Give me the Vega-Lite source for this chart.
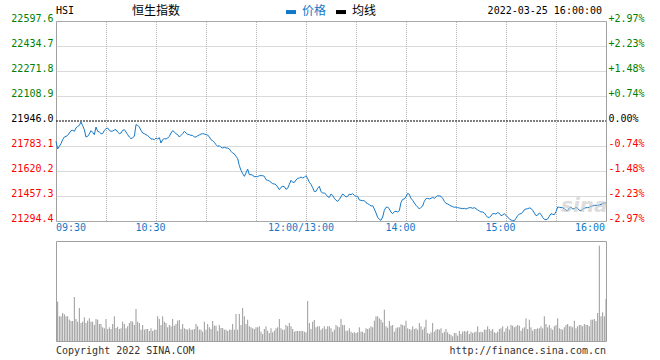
{
  "$schema": "https://vega.github.io/schema/vega-lite/v6.json",
  "background": "white",
  "padding": {"left": 10, "top": 4, "right": 10, "bottom": 4},
  "spacing": 20,
  "bounds": "flush",
  "config": {
    "view": {"stroke": "#a0a0a0", "strokeWidth": 1},
    "axis": {"domain": false, "ticks": false, "title": null, "labelFont": "DejaVu Sans Mono", "labelFontSize": 10, "gridColor": "#b4b4b4", "gridDash": [1, 1], "gridWidth": 1}
  },
  "datasets": {
    "px": [
      {"t":0,"p":21813.5},{"t":1,"p":21763.6},{"t":2,"p":21780.9},{"t":3,"p":21798.3},{"t":4,"p":21824.4},{"t":5,"p":21841.7},{"t":6,"p":21846.1},{"t":7,"p":21852.6},{"t":8,"p":21867.8},{"t":9,"p":21883.0},
      {"t":10,"p":21885.2},{"t":11,"p":21878.7},{"t":12,"p":21900.4},{"t":13,"p":21911.2},{"t":14,"p":21917.8},{"t":15,"p":21939.5},{"t":16,"p":21915.6},{"t":17,"p":21889.5},{"t":18,"p":21841.7},{"t":19,"p":21846.1},
      {"t":20,"p":21861.3},{"t":21,"p":21883.0},{"t":22,"p":21872.2},{"t":23,"p":21856.9},{"t":24,"p":21906.9},{"t":25,"p":21878.7},{"t":26,"p":21874.3},{"t":27,"p":21863.5},{"t":28,"p":21863.5},{"t":29,"p":21885.2},
      {"t":30,"p":21896.0},{"t":31,"p":21900.4},{"t":32,"p":21885.2},{"t":33,"p":21878.7},{"t":34,"p":21880.8},{"t":35,"p":21887.4},{"t":36,"p":21889.5},{"t":37,"p":21874.3},{"t":38,"p":21863.5},{"t":39,"p":21867.8},
      {"t":40,"p":21885.2},{"t":41,"p":21889.5},{"t":42,"p":21874.3},{"t":43,"p":21856.9},{"t":44,"p":21841.7},{"t":45,"p":21830.9},{"t":46,"p":21837.4},{"t":47,"p":21846.1},{"t":48,"p":21922.1},{"t":49,"p":21917.8},
      {"t":50,"p":21906.9},{"t":51,"p":21885.2},{"t":52,"p":21867.8},{"t":53,"p":21863.5},{"t":54,"p":21856.9},{"t":55,"p":21850.4},{"t":56,"p":21841.7},{"t":57,"p":21828.7},{"t":58,"p":21828.7},{"t":59,"p":21824.4},
      {"t":60,"p":21835.2},{"t":61,"p":21828.7},{"t":62,"p":21837.4},{"t":63,"p":21802.6},{"t":64,"p":21824.4},{"t":65,"p":21830.9},{"t":66,"p":21828.7},{"t":67,"p":21835.2},{"t":68,"p":21846.1},{"t":69,"p":21867.8},
      {"t":70,"p":21883.0},{"t":71,"p":21874.3},{"t":72,"p":21863.5},{"t":73,"p":21856.9},{"t":74,"p":21841.7},{"t":75,"p":21852.6},{"t":76,"p":21863.5},{"t":77,"p":21878.7},{"t":78,"p":21867.8},{"t":79,"p":21859.1},
      {"t":80,"p":21856.9},{"t":81,"p":21852.6},{"t":82,"p":21852.6},{"t":83,"p":21841.7},{"t":84,"p":21841.7},{"t":85,"p":21850.4},{"t":86,"p":21854.8},{"t":87,"p":21861.3},{"t":88,"p":21863.5},{"t":89,"p":21861.3},
      {"t":90,"p":21856.9},{"t":91,"p":21854.8},{"t":92,"p":21841.7},{"t":93,"p":21824.4},{"t":94,"p":21817.9},{"t":95,"p":21807.0},{"t":96,"p":21791.8},{"t":97,"p":21780.9},{"t":98,"p":21785.3},{"t":99,"p":21774.4},
      {"t":100,"p":21770.1},{"t":101,"p":21774.4},{"t":102,"p":21770.1},{"t":103,"p":21770.1},{"t":104,"p":21763.6},{"t":105,"p":21748.3},{"t":106,"p":21737.5},{"t":107,"p":21731.0},{"t":108,"p":21715.8},{"t":109,"p":21700.6},
      {"t":110,"p":21655.0},{"t":111,"p":21624.5},{"t":112,"p":21602.8},{"t":113,"p":21585.4},{"t":114,"p":21607.2},{"t":115,"p":21633.2},{"t":116,"p":21596.3},{"t":117,"p":21596.3},{"t":118,"p":21594.1},{"t":119,"p":21581.1},
      {"t":120,"p":21585.4},{"t":121,"p":21583.3},{"t":122,"p":21589.8},{"t":123,"p":21589.8},{"t":124,"p":21589.8},{"t":125,"p":21585.4},{"t":126,"p":21563.7},{"t":127,"p":21559.4},{"t":128,"p":21555.0},{"t":129,"p":21546.4},
      {"t":130,"p":21537.7},{"t":131,"p":21535.5},{"t":132,"p":21531.2},{"t":133,"p":21516.0},{"t":134,"p":21498.6},{"t":135,"p":21513.8},{"t":136,"p":21520.3},{"t":137,"p":21518.1},{"t":138,"p":21500.7},{"t":139,"p":21507.3},
      {"t":140,"p":21533.3},{"t":141,"p":21559.4},{"t":142,"p":21546.4},{"t":143,"p":21546.4},{"t":144,"p":21561.6},{"t":145,"p":21572.4},{"t":146,"p":21574.6},{"t":147,"p":21581.1},{"t":148,"p":21574.6},{"t":149,"p":21578.9},
      {"t":150,"p":21589.8},{"t":151,"p":21570.2},{"t":152,"p":21546.4},{"t":153,"p":21533.3},{"t":154,"p":21511.6},{"t":155,"p":21485.5},{"t":156,"p":21487.7},{"t":157,"p":21507.3},{"t":158,"p":21520.3},{"t":159,"p":21485.5},
      {"t":160,"p":21476.8},{"t":161,"p":21476.8},{"t":162,"p":21468.2},{"t":163,"p":21453.0},{"t":164,"p":21448.6},{"t":165,"p":21470.3},{"t":166,"p":21461.6},{"t":167,"p":21442.1},{"t":168,"p":21429.1},{"t":169,"p":21422.5},
      {"t":170,"p":21435.6},{"t":171,"p":21453.0},{"t":172,"p":21470.3},{"t":173,"p":21461.6},{"t":174,"p":21450.8},{"t":175,"p":21455.1},{"t":176,"p":21470.3},{"t":177,"p":21466.0},{"t":178,"p":21472.5},{"t":179,"p":21461.6},
      {"t":180,"p":21455.1},{"t":181,"p":21455.1},{"t":182,"p":21431.2},{"t":183,"p":21429.1},{"t":184,"p":21426.9},{"t":185,"p":21426.9},{"t":186,"p":21413.9},{"t":187,"p":21407.3},{"t":188,"p":21400.8},{"t":189,"p":21392.1},
      {"t":190,"p":21394.3},{"t":191,"p":21372.6},{"t":192,"p":21346.6},{"t":193,"p":21318.3},{"t":194,"p":21305.3},{"t":195,"p":21298.8},{"t":196,"p":21320.5},{"t":197,"p":21363.9},{"t":198,"p":21383.5},{"t":199,"p":21385.6},
      {"t":200,"p":21372.6},{"t":201,"p":21353.1},{"t":202,"p":21342.2},{"t":203,"p":21355.3},{"t":204,"p":21357.4},{"t":205,"p":21353.1},{"t":206,"p":21361.8},{"t":207,"p":21416.0},{"t":208,"p":21435.6},{"t":209,"p":21437.8},
      {"t":210,"p":21453.0},{"t":211,"p":21474.6},{"t":212,"p":21468.2},{"t":213,"p":21442.1},{"t":214,"p":21429.1},{"t":215,"p":21411.7},{"t":216,"p":21396.5},{"t":217,"p":21385.6},{"t":218,"p":21372.6},{"t":219,"p":21383.5},
      {"t":220,"p":21392.0},{"t":221,"p":21422.5},{"t":222,"p":21439.9},{"t":223,"p":21442.1},{"t":224,"p":21437.8},{"t":225,"p":21442.1},{"t":226,"p":21448.6},{"t":227,"p":21442.1},{"t":228,"p":21450.8},{"t":229,"p":21459.5},
      {"t":230,"p":21457.3},{"t":231,"p":21455.1},{"t":232,"p":21442.1},{"t":233,"p":21422.5},{"t":234,"p":21409.5},{"t":235,"p":21405.2},{"t":236,"p":21398.7},{"t":237,"p":21392.1},{"t":238,"p":21387.8},{"t":239,"p":21383.5},
      {"t":240,"p":21385.6},{"t":241,"p":21381.3},{"t":242,"p":21379.1},{"t":243,"p":21377.0},{"t":244,"p":21374.8},{"t":245,"p":21377.0},{"t":246,"p":21372.6},{"t":247,"p":21377.0},{"t":248,"p":21381.3},{"t":249,"p":21381.3},
      {"t":250,"p":21377.0},{"t":251,"p":21381.3},{"t":252,"p":21374.8},{"t":253,"p":21366.1},{"t":254,"p":21359.6},{"t":255,"p":21353.1},{"t":256,"p":21353.1},{"t":257,"p":21346.6},{"t":258,"p":21331.4},{"t":259,"p":21318.3},
      {"t":260,"p":21318.3},{"t":261,"p":21327.0},{"t":262,"p":21342.2},{"t":263,"p":21342.2},{"t":264,"p":21340.1},{"t":265,"p":21348.7},{"t":266,"p":21344.4},{"t":267,"p":21329.2},{"t":268,"p":21333.5},{"t":269,"p":21342.2},
      {"t":270,"p":21331.4},{"t":271,"p":21320.5},{"t":272,"p":21307.5},{"t":273,"p":21300.9},{"t":274,"p":21296.6},{"t":275,"p":21296.6},{"t":276,"p":21311.8},{"t":277,"p":21329.2},{"t":278,"p":21340.1},{"t":279,"p":21342.2},
      {"t":280,"p":21350.9},{"t":281,"p":21368.3},{"t":282,"p":21372.6},{"t":283,"p":21374.8},{"t":284,"p":21379.1},{"t":285,"p":21377.0},{"t":286,"p":21363.9},{"t":287,"p":21346.6},{"t":288,"p":21329.2},{"t":289,"p":21333.5},
      {"t":290,"p":21346.6},{"t":291,"p":21337.9},{"t":292,"p":21318.3},{"t":293,"p":21305.3},{"t":294,"p":21303.1},{"t":295,"p":21307.5},{"t":296,"p":21324.9},{"t":297,"p":21342.2},{"t":298,"p":21337.9},{"t":299,"p":21335.7},
      {"t":300,"p":21355.3},{"t":301,"p":21385.6},{"t":302,"p":21383.5},{"t":303,"p":21381.3},{"t":304,"p":21381.3},{"t":305,"p":21374.8},{"t":306,"p":21363.9},{"t":307,"p":21361.8},{"t":308,"p":21379.1},{"t":309,"p":21385.6},
      {"t":310,"p":21372.6},{"t":311,"p":21374.8},{"t":312,"p":21383.5},{"t":313,"p":21377.0},{"t":314,"p":21363.9},{"t":315,"p":21361.8},{"t":316,"p":21370.5},{"t":317,"p":21377.0},{"t":318,"p":21381.3},{"t":319,"p":21381.3},
      {"t":320,"p":21383.5},{"t":321,"p":21390.0},{"t":322,"p":21392.1},{"t":323,"p":21396.5},{"t":324,"p":21396.5},{"t":325,"p":21396.5},{"t":326,"p":21398.7},{"t":327,"p":21403.0},{"t":328,"p":21407.3},{"t":329,"p":21411.7},
      {"t":330,"p":21411.7}
    ],
    "vol": [
      {"t":1,"v":39.3},{"t":2,"v":24.7},{"t":3,"v":24.7},{"t":4,"v":28},{"t":5,"v":26.7},{"t":6,"v":24.7},{"t":7,"v":24.7},{"t":8,"v":21.3},{"t":9,"v":20},{"t":10,"v":20},
      {"t":11,"v":44},{"t":12,"v":22},{"t":13,"v":19.3},{"t":14,"v":33},{"t":15,"v":18},{"t":16,"v":19.3},{"t":17,"v":23.7},{"t":18,"v":18},{"t":19,"v":20.3},{"t":20,"v":22.7},
      {"t":21,"v":19.3},{"t":22,"v":19.3},{"t":23,"v":16},{"t":24,"v":22},{"t":25,"v":21.3},{"t":26,"v":17},{"t":27,"v":17},{"t":28,"v":13.7},{"t":29,"v":12.7},{"t":30,"v":22},
      {"t":31,"v":12},{"t":32,"v":13.7},{"t":33,"v":12},{"t":34,"v":17},{"t":35,"v":24.7},{"t":36,"v":13},{"t":37,"v":14.3},{"t":38,"v":12},{"t":39,"v":12.7},{"t":40,"v":19.3},
      {"t":41,"v":17},{"t":42,"v":12.7},{"t":43,"v":14.7},{"t":44,"v":18},{"t":45,"v":20},{"t":46,"v":19.3},{"t":47,"v":16},{"t":48,"v":32},{"t":49,"v":19.3},{"t":50,"v":18},
      {"t":51,"v":11.3},{"t":52,"v":16},{"t":53,"v":11.3},{"t":54,"v":12},{"t":55,"v":12},{"t":56,"v":10},{"t":57,"v":12.7},{"t":58,"v":10},{"t":59,"v":11.3},{"t":60,"v":11.3},
      {"t":61,"v":24.7},{"t":62,"v":22},{"t":63,"v":16},{"t":64,"v":24.7},{"t":65,"v":19.3},{"t":66,"v":18},{"t":67,"v":13.7},{"t":68,"v":16},{"t":69,"v":14.7},{"t":70,"v":22},
      {"t":71,"v":15.3},{"t":72,"v":17},{"t":73,"v":20.3},{"t":74,"v":21},{"t":75,"v":12},{"t":76,"v":17},{"t":77,"v":12.7},{"t":78,"v":12},{"t":79,"v":11.3},{"t":80,"v":12.7},
      {"t":81,"v":11.3},{"t":82,"v":11.3},{"t":83,"v":12},{"t":84,"v":17},{"t":85,"v":14.7},{"t":86,"v":11.3},{"t":87,"v":11.3},{"t":88,"v":9.3},{"t":89,"v":19.3},{"t":90,"v":11.3},
      {"t":91,"v":17},{"t":92,"v":13.7},{"t":93,"v":12},{"t":94,"v":20},{"t":95,"v":15.3},{"t":96,"v":15.3},{"t":97,"v":10},{"t":98,"v":16},{"t":99,"v":13},{"t":100,"v":13},
      {"t":101,"v":11.3},{"t":102,"v":11.3},{"t":103,"v":10},{"t":104,"v":11.3},{"t":105,"v":11.3},{"t":106,"v":17},{"t":107,"v":11.3},{"t":108,"v":27},{"t":109,"v":11.3},{"t":110,"v":27},
      {"t":111,"v":16},{"t":112,"v":33},{"t":113,"v":24.7},{"t":114,"v":17},{"t":115,"v":21.3},{"t":116,"v":14.7},{"t":117,"v":13.7},{"t":118,"v":12.7},{"t":119,"v":12},{"t":120,"v":13.7},
      {"t":121,"v":13.7},{"t":122,"v":14.7},{"t":123,"v":9.3},{"t":124,"v":7},{"t":125,"v":12},{"t":126,"v":14.7},{"t":127,"v":10.3},{"t":128,"v":8},{"t":129,"v":12.7},{"t":130,"v":8.7},
      {"t":131,"v":10.3},{"t":132,"v":12.7},{"t":133,"v":13.7},{"t":134,"v":22},{"t":135,"v":12.7},{"t":136,"v":11.3},{"t":137,"v":11.3},{"t":138,"v":16},{"t":139,"v":14.7},{"t":140,"v":18},
      {"t":141,"v":14.7},{"t":142,"v":12},{"t":143,"v":9.3},{"t":144,"v":10},{"t":145,"v":10},{"t":146,"v":10},{"t":147,"v":10},{"t":148,"v":10},{"t":149,"v":9.3},{"t":150,"v":8.7},
      {"t":151,"v":40},{"t":152,"v":18},{"t":153,"v":12},{"t":154,"v":19.3},{"t":155,"v":21},{"t":156,"v":13.7},{"t":157,"v":14.7},{"t":158,"v":14.7},{"t":159,"v":11.3},{"t":160,"v":12.7},
      {"t":161,"v":14.7},{"t":162,"v":12},{"t":163,"v":14.7},{"t":164,"v":14.7},{"t":165,"v":12.7},{"t":166,"v":9.3},{"t":167,"v":11.3},{"t":168,"v":16},{"t":169,"v":14.7},{"t":170,"v":13.7},
      {"t":171,"v":22},{"t":172,"v":16},{"t":173,"v":16},{"t":174,"v":10.3},{"t":175,"v":10.3},{"t":176,"v":12.7},{"t":177,"v":9.3},{"t":178,"v":8},{"t":179,"v":8.7},{"t":180,"v":8},
      {"t":181,"v":8.7},{"t":182,"v":13.7},{"t":183,"v":9.3},{"t":184,"v":9.3},{"t":185,"v":8},{"t":186,"v":12.7},{"t":187,"v":12},{"t":188,"v":12.7},{"t":189,"v":14.7},{"t":190,"v":13.7},
      {"t":191,"v":20.3},{"t":192,"v":24.7},{"t":193,"v":24.7},{"t":194,"v":22.7},{"t":195,"v":21.3},{"t":196,"v":18.7},{"t":197,"v":31.3},{"t":198,"v":14.7},{"t":199,"v":13.3},{"t":200,"v":20},
      {"t":201,"v":15.3},{"t":202,"v":16},{"t":203,"v":9.3},{"t":204,"v":12.7},{"t":205,"v":13.7},{"t":206,"v":13.7},{"t":207,"v":16.7},{"t":208,"v":16},{"t":209,"v":15.3},{"t":210,"v":20.3},
      {"t":211,"v":12.7},{"t":212,"v":12},{"t":213,"v":11.3},{"t":214,"v":14.7},{"t":215,"v":12},{"t":216,"v":12.7},{"t":217,"v":11.3},{"t":218,"v":18},{"t":219,"v":14.7},{"t":220,"v":11.3},
      {"t":221,"v":13.7},{"t":222,"v":21.3},{"t":223,"v":8},{"t":224,"v":7},{"t":225,"v":8.7},{"t":226,"v":18},{"t":227,"v":9.3},{"t":228,"v":11.3},{"t":229,"v":12},{"t":230,"v":11.3},
      {"t":231,"v":12.7},{"t":232,"v":8},{"t":233,"v":9.3},{"t":234,"v":12},{"t":235,"v":8.7},{"t":236,"v":7},{"t":237,"v":6},{"t":238,"v":4.7},{"t":239,"v":8},{"t":240,"v":8},
      {"t":241,"v":5.3},{"t":242,"v":10},{"t":243,"v":7},{"t":244,"v":9.3},{"t":245,"v":10},{"t":246,"v":9.3},{"t":247,"v":10.3},{"t":248,"v":7},{"t":249,"v":9.3},{"t":250,"v":8},
      {"t":251,"v":8.7},{"t":252,"v":9.3},{"t":253,"v":14.7},{"t":254,"v":8.7},{"t":255,"v":9.3},{"t":256,"v":8.7},{"t":257,"v":11.3},{"t":258,"v":11.3},{"t":259,"v":14.7},{"t":260,"v":12},
      {"t":261,"v":10.3},{"t":262,"v":12},{"t":263,"v":8.7},{"t":264,"v":8},{"t":265,"v":9.3},{"t":266,"v":12},{"t":267,"v":12.7},{"t":268,"v":14.7},{"t":269,"v":9.3},{"t":270,"v":12.7},
      {"t":271,"v":14.7},{"t":272,"v":11.3},{"t":273,"v":16},{"t":274,"v":15.3},{"t":275,"v":13.7},{"t":276,"v":14.7},{"t":277,"v":16},{"t":278,"v":15.3},{"t":279,"v":10.3},{"t":280,"v":12.7},
      {"t":281,"v":13.7},{"t":282,"v":22.7},{"t":283,"v":12},{"t":284,"v":21.3},{"t":285,"v":13.7},{"t":286,"v":10.3},{"t":287,"v":12},{"t":288,"v":12},{"t":289,"v":12.7},{"t":290,"v":12.7},
      {"t":291,"v":14.7},{"t":292,"v":12.7},{"t":293,"v":24.7},{"t":294,"v":17},{"t":295,"v":13.7},{"t":296,"v":16},{"t":297,"v":12.7},{"t":298,"v":11.3},{"t":299,"v":14.7},{"t":300,"v":16},
      {"t":301,"v":22.7},{"t":302,"v":12.7},{"t":303,"v":12},{"t":304,"v":11.3},{"t":305,"v":13.7},{"t":306,"v":16},{"t":307,"v":17},{"t":308,"v":14.7},{"t":309,"v":14.7},{"t":310,"v":13.7},
      {"t":311,"v":20.3},{"t":312,"v":12.7},{"t":313,"v":14.7},{"t":314,"v":16},{"t":315,"v":16},{"t":316,"v":14.7},{"t":317,"v":17},{"t":318,"v":16},{"t":319,"v":16},{"t":320,"v":14.7},
      {"t":321,"v":21.3},{"t":322,"v":21.3},{"t":323,"v":22},{"t":324,"v":20},{"t":325,"v":28},{"t":326,"v":95.3},{"t":327,"v":24.7},{"t":328,"v":28.7},{"t":329,"v":24.7},{"t":330,"v":42}
    ]
  },
  "vconcat": [
    {
      "width": 550,
      "height": 200,
      "data": {"name": "px"},
      "layer": [
        {
          "transform": [{"filter": "datum.t % 30 == 0 && datum.t > 0 && datum.t < 330"}],
          "mark": {"type": "rule", "color": "#b4b4b4", "strokeDash": [1, 1], "strokeWidth": 1, "xOffset": 0.5},
          "encoding": {
            "x": {"field": "t", "type": "quantitative", "axis": null},
            "y": {"datum": 21294.4, "type": "quantitative", "axis": null},
            "y2": {"datum": 22597.6}
          }
        },
        {
          "mark": {"type": "line", "color": "#1478c8", "strokeWidth": 1},
          "encoding": {
            "x": {
              "field": "t", "type": "quantitative",
              "scale": {"domain": [0, 330], "nice": false, "zero": false},
              "axis": {"values": [0, 30, 60, 90, 120, 150, 180, 210, 240, 270, 300, 330], "grid": true, "labels": false}
            },
            "y": {
              "field": "p", "type": "quantitative",
              "scale": {"domain": [21294.4, 22597.6], "nice": false, "zero": false},
              "axis": {
                "orient": "left",
                "values": [21294.4, 21457.3, 21620.2, 21783.1, 21946, 22108.9, 22271.8, 22434.7, 22597.6],
                "format": ".1f",
                "grid": true,
                "labelFlush": false,
                "labelPadding": 3,
                "labelBaseline": "middle",
                "labelOffset": -3,
                "labelColor": {"condition": [{"test": "datum.value > 21946", "value": "#008000"}, {"test": "datum.value < 21946", "value": "#ff0000"}], "value": "#000000"},
                "gridOpacity": {"condition": {"test": "datum.value == 21946", "value": 0}, "value": 1}
              }
            }
          }
        },
        {
          "mark": {"type": "line", "color": "#1478c8", "strokeWidth": 1, "opacity": 0},
          "encoding": {
            "x": {"field": "t", "type": "quantitative", "axis": null},
            "y": {
              "field": "p", "type": "quantitative",
              "axis": {
                "orient": "right",
                "values": [21294.4, 21457.3, 21620.2, 21783.1, 21946, 22108.9, 22271.8, 22434.7, 22597.6],
                "grid": false,
                "labelFlush": false,
                "labelPadding": 2,
                "labelBaseline": "middle",
                "labelOffset": -3,
                "labelExpr": "datum.value == 21946 ? '0.00%' : (datum.value > 21946 ? '+' : '-') + format(abs(datum.value - 21946) / 21946 * 100, '.2f') + '%'",
                "labelColor": {"condition": [{"test": "datum.value > 21946", "value": "#008000"}, {"test": "datum.value < 21946", "value": "#ff0000"}], "value": "#000000"}
              }
            }
          }
        },
        {
          "data": {"values": [{}]},
          "mark": {"type": "text", "text": "sina", "font": "DejaVu Sans", "fontSize": 20, "fontWeight": "bold", "fontStyle": "italic", "color": "#c8c8c8", "opacity": 0.6, "align": "center", "baseline": "middle"},
          "encoding": {
            "x": {"datum": 317, "type": "quantitative", "axis": null},
            "y": {"datum": 21392, "type": "quantitative", "axis": null}
          }
        },
        {
          "data": {"values": [{}]},
          "mark": {"type": "rule", "color": "#000000", "strokeDash": [2, 1], "strokeWidth": 1},
          "encoding": {
            "x": {"datum": 0, "type": "quantitative", "axis": null},
            "x2": {"datum": 330},
            "y": {"datum": 21946, "type": "quantitative", "axis": null}
          }
        },
        {
          "data": {"values": [{}]},
          "mark": {"type": "text", "text": "09:30", "font": "DejaVu Sans Mono", "fontSize": 10, "color": "#1478c8", "align": "left", "baseline": "middle"},
          "encoding": {
            "x": {"datum": 0, "type": "quantitative", "axis": null},
            "y": {"datum": 21248.8, "type": "quantitative", "axis": null}
          }
        },
        {
          "data": {"values": [{}]},
          "mark": {"type": "text", "text": "10:30", "font": "DejaVu Sans Mono", "fontSize": 10, "color": "#1478c8", "align": "center", "baseline": "middle"},
          "encoding": {
            "x": {"datum": 56.7, "type": "quantitative", "axis": null},
            "y": {"datum": 21248.8, "type": "quantitative", "axis": null}
          }
        },
        {
          "data": {"values": [{}]},
          "mark": {"type": "text", "text": "12:00/13:00", "font": "DejaVu Sans Mono", "fontSize": 10, "color": "#1478c8", "align": "center", "baseline": "middle"},
          "encoding": {
            "x": {"datum": 147, "type": "quantitative", "axis": null},
            "y": {"datum": 21248.8, "type": "quantitative", "axis": null}
          }
        },
        {
          "data": {"values": [{}]},
          "mark": {"type": "text", "text": "14:00", "font": "DejaVu Sans Mono", "fontSize": 10, "color": "#1478c8", "align": "center", "baseline": "middle"},
          "encoding": {
            "x": {"datum": 206.7, "type": "quantitative", "axis": null},
            "y": {"datum": 21248.8, "type": "quantitative", "axis": null}
          }
        },
        {
          "data": {"values": [{}]},
          "mark": {"type": "text", "text": "15:00", "font": "DejaVu Sans Mono", "fontSize": 10, "color": "#1478c8", "align": "center", "baseline": "middle"},
          "encoding": {
            "x": {"datum": 266.7, "type": "quantitative", "axis": null},
            "y": {"datum": 21248.8, "type": "quantitative", "axis": null}
          }
        },
        {
          "data": {"values": [{}]},
          "mark": {"type": "text", "text": "16:00", "font": "DejaVu Sans Mono", "fontSize": 10, "color": "#1478c8", "align": "right", "baseline": "middle"},
          "encoding": {
            "x": {"datum": 329.4, "type": "quantitative", "axis": null},
            "y": {"datum": 21248.8, "type": "quantitative", "axis": null}
          }
        },
        {
          "data": {"values": [{}]},
          "mark": {"type": "text", "text": "HSI", "font": "DejaVu Sans Mono", "fontSize": 10, "color": "#000000", "align": "left", "baseline": "middle"},
          "encoding": {
            "x": {"datum": 0, "type": "quantitative", "axis": null},
            "y": {"datum": 22662.8, "type": "quantitative", "axis": null}
          }
        },
        {
          "data": {"values": [{}]},
          "mark": {"type": "text", "text": "恒生指数", "font": "Noto Sans CJK SC", "fontSize": 12, "color": "#000000", "align": "left", "baseline": "middle"},
          "encoding": {
            "x": {"datum": 45.6, "type": "quantitative", "axis": null},
            "y": {"datum": 22662.8, "type": "quantitative", "axis": null}
          }
        },
        {
          "data": {"values": [{}]},
          "mark": {"type": "rule", "color": "#1478c8", "strokeWidth": 4},
          "encoding": {
            "x": {"datum": 138, "type": "quantitative", "axis": null},
            "x2": {"datum": 144},
            "y": {"datum": 22656, "type": "quantitative", "axis": null}
          }
        },
        {
          "data": {"values": [{}]},
          "mark": {"type": "text", "text": "价格", "font": "Noto Sans CJK SC", "fontSize": 12, "color": "#1478c8", "align": "left", "baseline": "middle"},
          "encoding": {
            "x": {"datum": 147.6, "type": "quantitative", "axis": null},
            "y": {"datum": 22662.8, "type": "quantitative", "axis": null}
          }
        },
        {
          "data": {"values": [{}]},
          "mark": {"type": "rule", "color": "#000000", "strokeWidth": 4},
          "encoding": {
            "x": {"datum": 168, "type": "quantitative", "axis": null},
            "x2": {"datum": 174},
            "y": {"datum": 22656, "type": "quantitative", "axis": null}
          }
        },
        {
          "data": {"values": [{}]},
          "mark": {"type": "text", "text": "均线", "font": "Noto Sans CJK SC", "fontSize": 12, "color": "#000000", "align": "left", "baseline": "middle"},
          "encoding": {
            "x": {"datum": 177.6, "type": "quantitative", "axis": null},
            "y": {"datum": 22662.8, "type": "quantitative", "axis": null}
          }
        },
        {
          "data": {"values": [{}]},
          "mark": {"type": "text", "text": "2022-03-25 16:00:00", "font": "DejaVu Sans Mono", "fontSize": 10, "color": "#000000", "align": "right", "baseline": "middle"},
          "encoding": {
            "x": {"datum": 327.6, "type": "quantitative", "axis": null},
            "y": {"datum": 22662.8, "type": "quantitative", "axis": null}
          }
        }
      ]
    },
    {
      "width": 550,
      "height": 100,
      "layer": [
        {
          "data": {"name": "vol"},
          "mark": {"type": "rule", "color": "#999999", "strokeWidth": 1},
          "encoding": {
            "x": {
              "field": "t", "type": "quantitative",
              "scale": {"domain": [0, 330], "nice": false, "zero": false},
              "axis": {"values": [0, 30, 60, 90, 120, 150, 180, 210, 240, 270, 300, 330], "grid": true, "labels": false}
            },
            "y": {
              "field": "v", "type": "quantitative",
              "scale": {"domain": [0, 100], "nice": false},
              "axis": {"values": [0, 25, 50, 75, 100], "grid": true, "labels": false}
            },
            "y2": {"datum": 0}
          }
        },
        {
          "data": {"values": [{}]},
          "mark": {"type": "text", "text": "Copyright 2022 SINA.COM", "font": "DejaVu Sans Mono", "fontSize": 10, "color": "#333333", "align": "left", "baseline": "middle"},
          "encoding": {
            "x": {"datum": 0, "type": "quantitative", "axis": null},
            "y": {"datum": -10, "type": "quantitative", "axis": null}
          }
        },
        {
          "data": {"values": [{}]},
          "mark": {"type": "text", "text": "http://finance.sina.com.cn", "font": "DejaVu Sans Mono", "fontSize": 10, "color": "#333333", "align": "right", "baseline": "middle"},
          "encoding": {
            "x": {"datum": 330, "type": "quantitative", "axis": null},
            "y": {"datum": -10, "type": "quantitative", "axis": null}
          }
        }
      ]
    }
  ]
}
